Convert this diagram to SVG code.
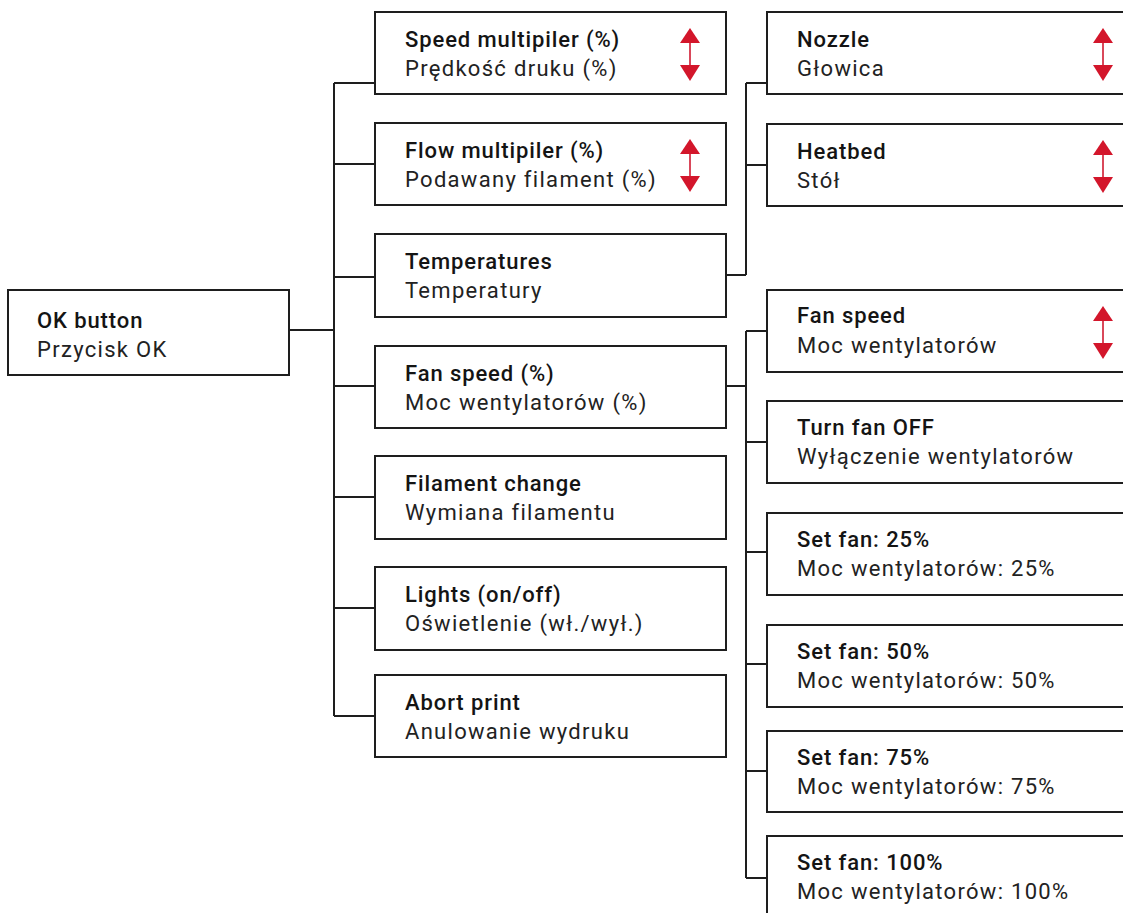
<svg xmlns="http://www.w3.org/2000/svg" xmlns:xlink="http://www.w3.org/1999/xlink" width="1123" height="913" viewBox="0 0 1123 913">
<style>
.box{fill:#fff;stroke:#1e1e1e;stroke-width:2}
.t1{font-family:Roboto,"Liberation Sans",sans-serif;font-size:22px;font-weight:500;fill:#141414;letter-spacing:0.9px}
.t2{font-family:Roboto,"Liberation Sans",sans-serif;font-size:22px;font-weight:400;fill:#222;letter-spacing:1.3px}
.con{fill:none;stroke:#1e1e1e;stroke-width:2}
</style>
<defs>
<g id="updown">
<line x1="0" y1="30" x2="0" y2="54" stroke="#d9485a" stroke-width="2"/>
<polygon points="0,16 -10,31 10,31" fill="#d3162b"/>
<polygon points="-10,53 10,53 0,69" fill="#d3162b"/>
</g>
</defs>
<rect width="1123" height="913" fill="#fff"/>
<g id="connectors">
<path class="con" d="M289,330H334M334,83V716M334,83H375M334,164H375M334,277H375M334,386H375M334,497H375M334,608H375M334,716H375"/>
<path class="con" d="M726,275H746M746,83V275M746,83H767M746,165H767"/>
<path class="con" d="M726,386H746M746,331V878M746,331H767M746,442H767M746,552H767M746,664H767M746,771H767M746,878H767"/>
</g>
<g id="ok"><rect class="box" x="8" y="290" width="281" height="85"/><text class="t1" x="37" y="328">OK button</text><text class="t2" x="37" y="357">Przycisk OK</text></g>
<g id="speed"><rect class="box" x="375" y="12" width="351" height="82"/><text class="t1" x="405" y="47">Speed multipiler (%)</text><text class="t2" x="405" y="76">Prędkość druku (%)</text><use xlink:href="#updown" x="690" y="12"/></g>
<g id="flow"><rect class="box" x="375" y="123" width="351" height="82"/><text class="t1" x="405" y="158">Flow multipiler (%)</text><text class="t2" x="405" y="187">Podawany filament (%)</text><use xlink:href="#updown" x="690" y="123"/></g>
<g id="temps"><rect class="box" x="375" y="234" width="351" height="83"/><text class="t1" x="405" y="269">Temperatures</text><text class="t2" x="405" y="298">Temperatury</text></g>
<g id="fan"><rect class="box" x="375" y="346" width="351" height="82"/><text class="t1" x="405" y="381">Fan speed (%)</text><text class="t2" x="405" y="410">Moc wentylatorów (%)</text></g>
<g id="filament"><rect class="box" x="375" y="456" width="351" height="83"/><text class="t1" x="405" y="491">Filament change</text><text class="t2" x="405" y="520">Wymiana filamentu</text></g>
<g id="lights"><rect class="box" x="375" y="567" width="351" height="83"/><text class="t1" x="405" y="602">Lights (on/off)</text><text class="t2" x="405" y="631">Oświetlenie (wł./wył.)</text></g>
<g id="abort"><rect class="box" x="375" y="675" width="351" height="82"/><text class="t1" x="405" y="710">Abort print</text><text class="t2" x="405" y="739">Anulowanie wydruku</text></g>
<g id="nozzle"><rect class="box" x="767" y="12" width="400" height="82"/><text class="t1" x="797" y="47">Nozzle</text><text class="t2" x="797" y="76">Głowica</text><use xlink:href="#updown" x="1103" y="12"/></g>
<g id="heatbed"><rect class="box" x="767" y="124" width="400" height="82"/><text class="t1" x="797" y="159">Heatbed</text><text class="t2" x="797" y="188">Stół</text><use xlink:href="#updown" x="1103" y="124"/></g>
<g id="fanspeed"><rect class="box" x="767" y="290" width="400" height="82"/><text class="t1" x="797" y="323">Fan speed</text><text class="t2" x="797" y="353">Moc wentylatorów</text><use xlink:href="#updown" x="1103" y="290"/></g>
<g id="fanoff"><rect class="box" x="767" y="401" width="400" height="82"/><text class="t1" x="797" y="435">Turn fan OFF</text><text class="t2" x="797" y="464">Wyłączenie wentylatorów</text></g>
<g id="fan25"><rect class="box" x="767" y="513" width="400" height="82"/><text class="t1" x="797" y="547">Set fan: 25%</text><text class="t2" x="797" y="576">Moc wentylatorów: 25%</text></g>
<g id="fan50"><rect class="box" x="767" y="625" width="400" height="82"/><text class="t1" x="797" y="659">Set fan: 50%</text><text class="t2" x="797" y="688">Moc wentylatorów: 50%</text></g>
<g id="fan75"><rect class="box" x="767" y="731" width="400" height="81"/><text class="t1" x="797" y="765">Set fan: 75%</text><text class="t2" x="797" y="794">Moc wentylatorów: 75%</text></g>
<g id="fan100"><rect class="box" x="767" y="836" width="400" height="100"/><text class="t1" x="797" y="870">Set fan: 100%</text><text class="t2" x="797" y="899">Moc wentylatorów: 100%</text></g>
</svg>
